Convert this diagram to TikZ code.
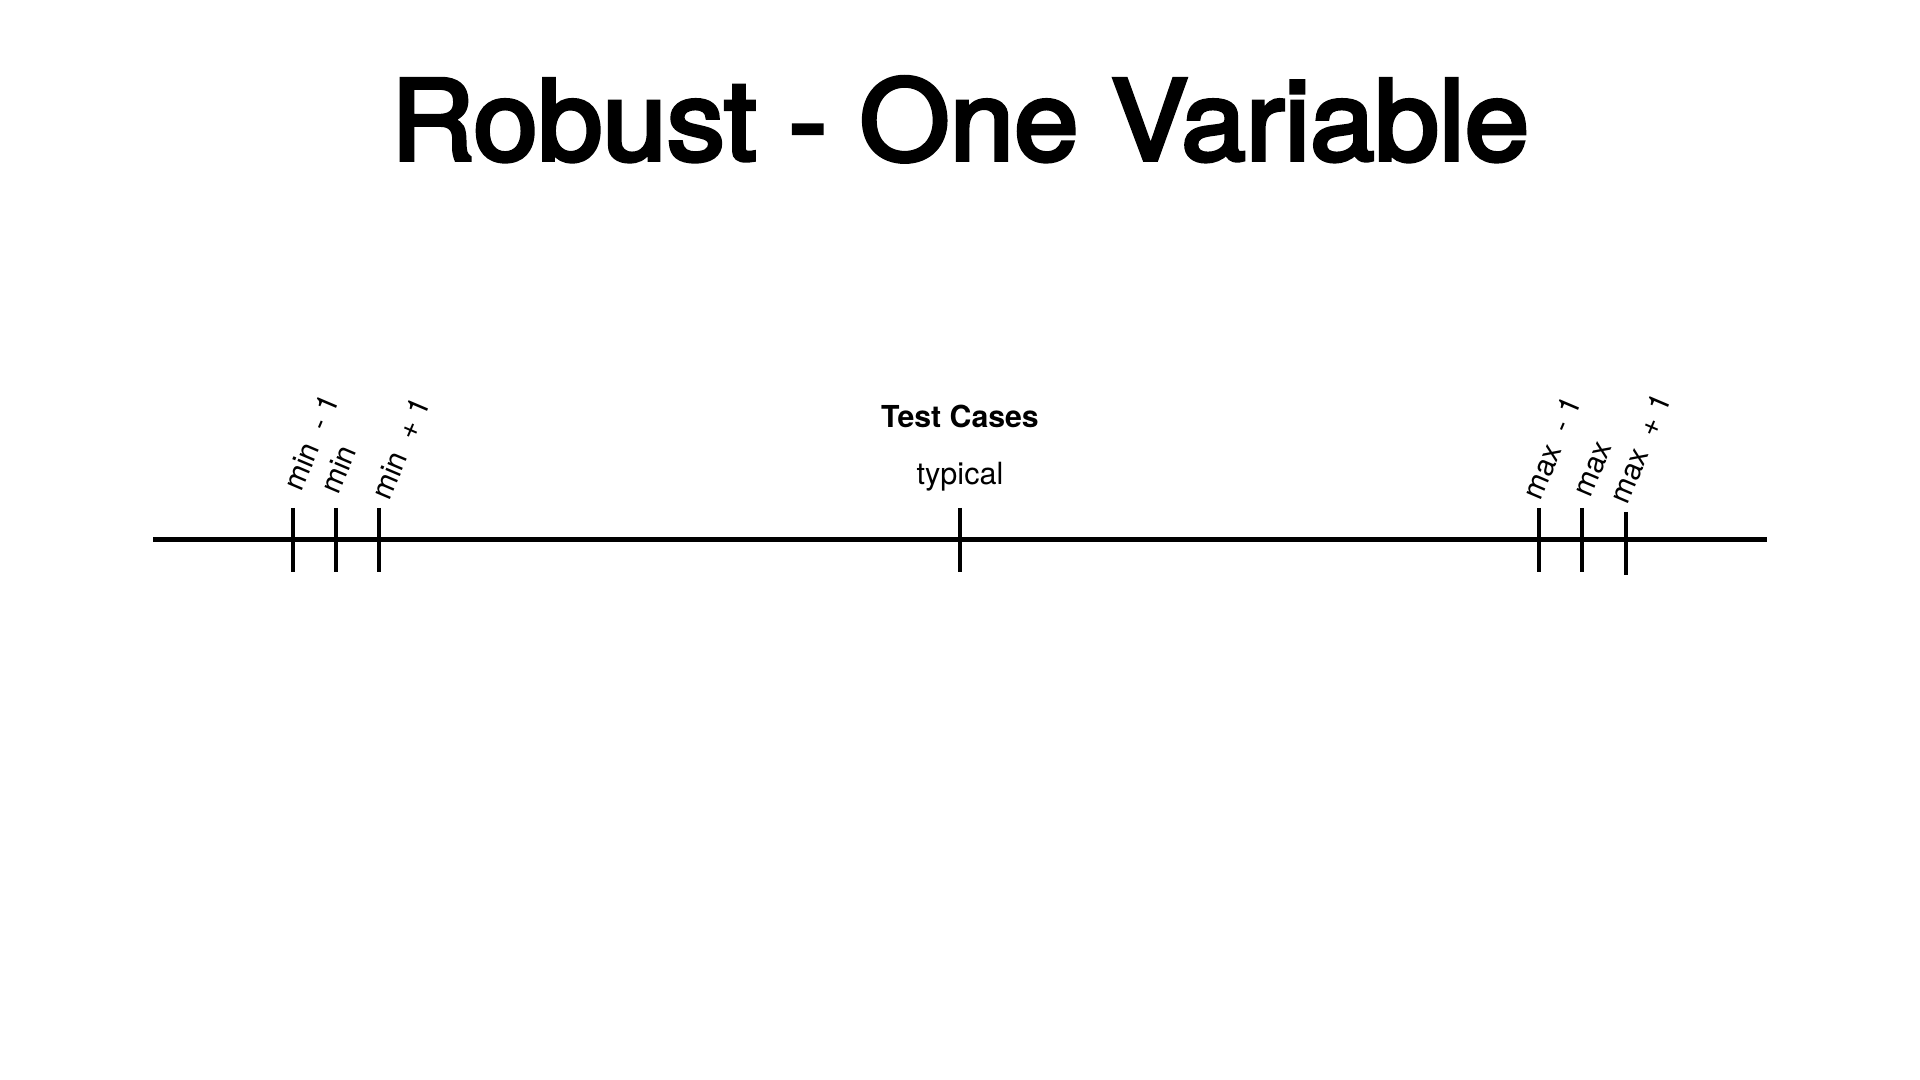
\documentclass[tikz,border=0pt]{standalone}
\usepackage{fontspec}
\setmainfont{TeX Gyre Heros}
\newfontfamily\titlefont[FakeBold=3.5]{TeX Gyre Heros}
\usetikzlibrary{calc, positioning}

\begin{document}
\begin{tikzpicture}[x=0.01cm, y=-0.01cm,
    axis/.style={line width=1.42pt},
    tickmark/.style={line width=1.14pt},
    caselabel/.style={font=\fontsize{8.5}{10}\selectfont, rotate=67, anchor=base west, inner sep=0pt},
    plainlabel/.style={font=\fontsize{8.7}{10}\selectfont, anchor=base, inner sep=0pt}]
    \useasboundingbox (0,0) rectangle (1920,1080);

    \node[font=\titlefont\fontsize{31.7}{36}\selectfont, anchor=base, inner sep=0pt] (title) at (960,160) {\scalebox{1.04}[1]{Robust - One Variable}};

    % number line
    \coordinate (axl) at (153,540);
    \coordinate (axr) at (1767,540);
    \draw[axis] (axl) -- (axr);

    \foreach \n/\x in {mnm/293, mn/336, mnp/379, typ/960, mxm/1539, mx/1582} {
        \coordinate (\n) at (\x,540);
        \draw[tickmark] (\n) ++(0,-32) -- ++(0,64);
    }
    \coordinate (mxp) at (1626,540);
    \draw[tickmark] (mxp) ++(0,-28) -- ++(0,63);

    % labels
    \node[caselabel] (lmnm) at ($(mnm)+(8,-47)$) {min\ \ - 1};
    \node[caselabel] (lmn) at ($(mn)+(2,-44)$) {min};
    \node[caselabel] (lmnp) at ($(mnp)+(10,-38)$) {min\ \ + 1};
    \node[plainlabel] (ltyp) at ($(typ)+(0,-55)$) {typical};
    \node[plainlabel, font=\fontsize{8.6}{10}\selectfont\bfseries] (cases) at ($(typ)+(0,-112)$) {Test Cases};
    \node[caselabel] (lmxm) at ($(mxm)+(1,-38)$) {max\ \ - 1};
    \node[caselabel] (lmx) at ($(mx)+(8,-41)$) {max};
    \node[caselabel] (lmxp) at ($(mxp)+(1,-34)$) {max\ \ + 1};
\end{tikzpicture}
\end{document}
